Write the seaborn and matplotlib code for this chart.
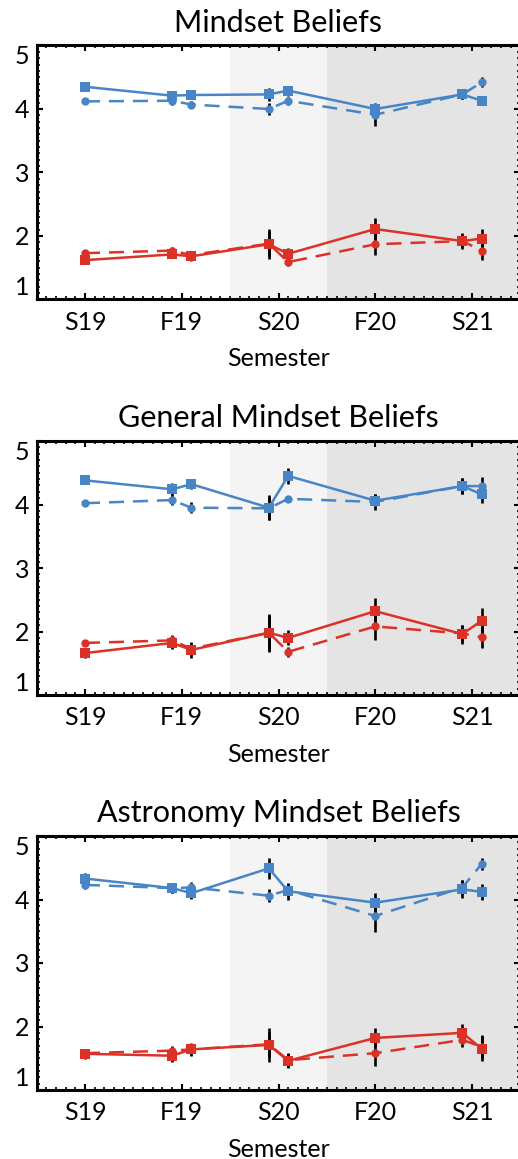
import pandas as pd
import matplotlib
matplotlib.use("Agg")
import matplotlib.pyplot as plt
import seaborn as sns
from matplotlib.ticker import MultipleLocator

# Semestre etiketleri ve nokta konumları
semesters = ['S19', 'F19', 'S20', 'F20', 'S21']
x_pos = [0.0, 0.9, 1.1, 1.9, 2.1, 3.0, 3.9, 4.1]

titles = ['Mindset Beliefs', 'General Mindset Beliefs', 'Astronomy Mindset Beliefs']

# Mindset Beliefs
p1_blue_solid = [4.35, 4.21, 4.22, 4.23, 4.29, 4.00, 4.23, 4.13]
p1_blue_solid_err = [0.04, 0.07, 0.06, 0.10, 0.08, 0.09, 0.08, 0.07]
p1_blue_dash = [4.12, 4.13, 4.07, 4.00, 4.13, 3.91, 4.23, 4.42]
p1_blue_dash_err = [0.03, 0.06, 0.06, 0.09, 0.06, 0.17, 0.08, 0.08]
p1_red_solid = [1.62, 1.71, 1.68, 1.87, 1.72, 2.11, 1.92, 1.96]
p1_red_solid_err = [0.06, 0.06, 0.07, 0.24, 0.09, 0.17, 0.12, 0.15]
p1_red_dash = [1.73, 1.77, 1.70, 1.88, 1.59, 1.87, 1.92, 1.77]
p1_red_dash_err = [0.05, 0.05, 0.06, 0.20, 0.07, 0.17, 0.10, 0.15]

# General Mindset Beliefs
p2_blue_solid = [4.38, 4.24, 4.32, 3.95, 4.45, 4.06, 4.29, 4.16]
p2_blue_solid_err = [0.03, 0.10, 0.08, 0.20, 0.12, 0.10, 0.12, 0.14]
p2_blue_dash = [4.02, 4.07, 3.95, 3.94, 4.09, 4.04, 4.29, 4.29]
p2_blue_dash_err = [0.03, 0.08, 0.09, 0.18, 0.05, 0.13, 0.12, 0.14]
p2_red_solid = [1.66, 1.82, 1.71, 1.98, 1.90, 2.32, 1.96, 2.17]
p2_red_solid_err = [0.07, 0.10, 0.12, 0.30, 0.12, 0.20, 0.15, 0.20]
p2_red_dash = [1.82, 1.86, 1.73, 1.98, 1.68, 2.08, 1.97, 1.91]
p2_red_dash_err = [0.05, 0.08, 0.08, 0.28, 0.08, 0.21, 0.13, 0.17]

# Astronomy Mindset Beliefs
p3_blue_solid = [4.33, 4.18, 4.10, 4.49, 4.13, 3.95, 4.16, 4.12]
p3_blue_solid_err = [0.09, 0.08, 0.09, 0.16, 0.13, 0.16, 0.14, 0.13]
p3_blue_dash = [4.23, 4.18, 4.19, 4.06, 4.15, 3.74, 4.19, 4.56]
p3_blue_dash_err = [0.06, 0.07, 0.08, 0.10, 0.10, 0.25, 0.12, 0.10]
p3_red_solid = [1.57, 1.54, 1.64, 1.71, 1.46, 1.82, 1.90, 1.65]
p3_red_solid_err = [0.08, 0.10, 0.10, 0.27, 0.12, 0.15, 0.14, 0.20]
p3_red_dash = [1.58, 1.62, 1.64, 1.72, 1.47, 1.58, 1.79, 1.68]
p3_red_dash_err = [0.06, 0.08, 0.08, 0.20, 0.10, 0.20, 0.12, 0.18]

panels = [
    (p1_blue_solid, p1_blue_solid_err, p1_blue_dash, p1_blue_dash_err,
     p1_red_solid, p1_red_solid_err, p1_red_dash, p1_red_dash_err),
    (p2_blue_solid, p2_blue_solid_err, p2_blue_dash, p2_blue_dash_err,
     p2_red_solid, p2_red_solid_err, p2_red_dash, p2_red_dash_err),
    (p3_blue_solid, p3_blue_solid_err, p3_blue_dash, p3_blue_dash_err,
     p3_red_solid, p3_red_solid_err, p3_red_dash, p3_red_dash_err),
]

BLUE = '#4785c6'
RED = '#dc3127'


def make_long(vals):
    bs, bse, bd, bde, rs, rse, rd, rde = vals
    rows = []
    for tone, line, v, e in [('blue', 'solid', bs, bse), ('blue', 'dashed', bd, bde),
                             ('red', 'solid', rs, rse), ('red', 'dashed', rd, rde)]:
        for x, y, err in zip(x_pos, v, e):
            rows.append({'x': x, 'value': y, 'err': err, 'tone': tone, 'line': line})
    return pd.DataFrame(rows)


sns.set_style('ticks')
plt.rcParams['font.family'] = ['Lato', 'DejaVu Sans']
plt.rcParams['text.color'] = 'black'
plt.rcParams['xtick.labelcolor'] = 'black'
plt.rcParams['ytick.labelcolor'] = 'black'

fig = plt.figure(figsize=(5.18, 11.59), dpi=100)
W, H = 518.0, 1159.0
tops = [45.5, 441.0, 836.0]
ax_h = 254.0
left_px, right_px = 36.6, 520.4

for i, vals in enumerate(panels):
    df = make_long(vals)
    ax = fig.add_axes([left_px / W, 1 - (tops[i] + ax_h) / H,
                       (right_px - left_px) / W, ax_h / H])

    # Arka plan gölgeleri
    ax.axvspan(1.5, 2.5, color='#f4f4f4', zorder=0, lw=0)
    ax.axvspan(2.5, 4.6, color='#e4e4e4', zorder=0, lw=0)

    # Hata çubukları
    ax.errorbar(df['x'], df['value'], yerr=df['err'], fmt='none',
                ecolor='black', elinewidth=1.9, capsize=0, zorder=2)

    solid = df[df['line'] == 'solid']
    dashed = df[df['line'] == 'dashed']
    sns.lineplot(data=dashed, x='x', y='value', hue='tone', estimator=None, sort=False,
                 palette={'blue': BLUE, 'red': RED}, marker='o', markersize=6,
                 markeredgewidth=0, lw=1.8, dashes=False, legend=False, ax=ax, zorder=3)
    for ln in ax.get_lines()[-2:]:
        ln.set_dashes((6.0, 3.6))
    sns.lineplot(data=solid, x='x', y='value', hue='tone', estimator=None, sort=False,
                 palette={'blue': BLUE, 'red': RED}, marker='s', markersize=6.5,
                 markeredgewidth=0, lw=1.8, legend=False, ax=ax, zorder=4)

    ax.set_xlim(-0.5, 4.5)
    ax.set_ylim(1, 5)
    ax.set_xticks(range(len(semesters)))
    ax.set_xticklabels(semesters)
    ax.set_yticks([1, 2, 3, 4, 5])
    ax.set_yticklabels(['1', '2', '3', '4', '5'])
    ax.xaxis.set_minor_locator(MultipleLocator(0.1))
    ax.yaxis.set_minor_locator(MultipleLocator(0.1))
    ax.tick_params(which='major', direction='in', length=4.5, width=1.5,
                   top=True, right=True, labelsize=18, color='black', labelcolor='black')
    ax.tick_params(which='minor', direction='in', length=2, width=1.2,
                   top=True, right=True, color='black')
    ax.tick_params(axis='x', which='major', pad=8)
    ax.tick_params(axis='y', which='major', pad=5)
    ylabels = ax.get_yticklabels()
    ylabels[0].set_va('bottom')
    ylabels[-1].set_va('top')

    for side in ['left', 'bottom', 'top', 'right']:
        ax.spines[side].set_linewidth(2.2)
        ax.spines[side].set_color('black')

    ax.set_title(titles[i], fontsize=22, pad=10, color='black')
    ax.set_xlabel('Semester', fontsize=18, labelpad=10, color='black')
    ax.set_ylabel('')

fig.savefig('out.png', dpi=100)
